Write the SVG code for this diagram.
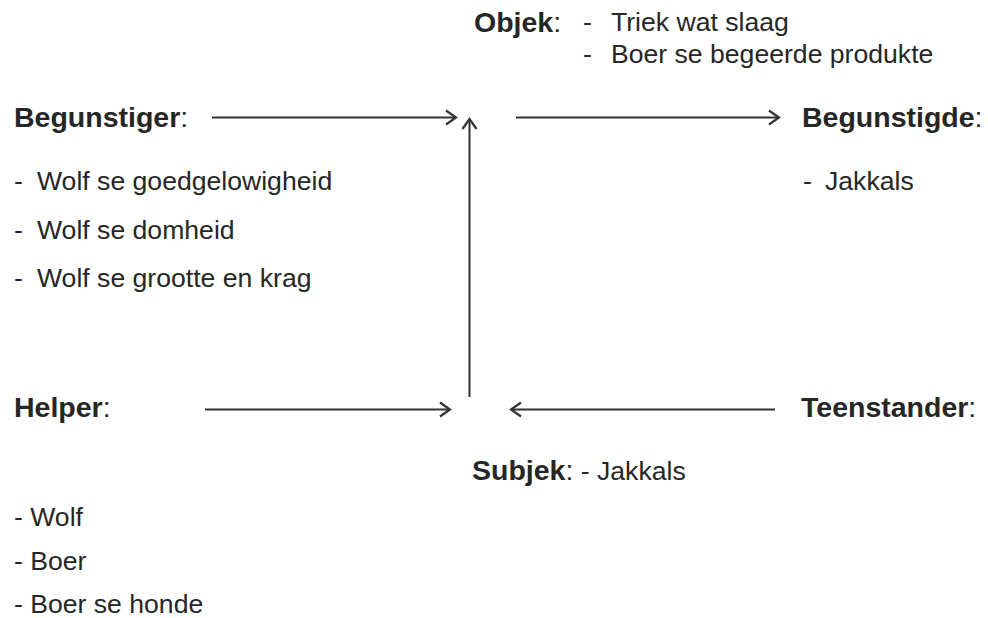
<svg xmlns="http://www.w3.org/2000/svg" width="988" height="618" viewBox="0 0 988 618">
<style>
text{font-family:"Liberation Sans",Arial,sans-serif;fill:#262626}
.h{font-size:28.5px;font-weight:bold}
.c{font-weight:normal}
.t{font-size:26.6px}
.ln{stroke:#333;stroke-width:2;fill:none}
</style>
<defs>
<marker id="ah" markerUnits="userSpaceOnUse" markerWidth="20" markerHeight="20" viewBox="-12 -10 14 20" refX="0" refY="0" orient="auto">
<path d="M-10,-7 L0,0 L-10,7" fill="none" stroke="#333" stroke-width="2.2"/>
</marker>
</defs>
<rect width="988" height="618" fill="#fff"/>
<g id="objek">
<text class="h" x="474" y="32">Objek<tspan class="c">:</tspan></text>
<text class="t" x="583" y="31">-</text>
<text class="t" x="611" y="31">Triek wat slaag</text>
<text class="t" x="583" y="63">-</text>
<text class="t" x="611" y="63">Boer se begeerde produkte</text>
</g>
<g id="begunstiger">
<text class="h" x="14" y="127">Begunstiger<tspan class="c">:</tspan></text>
<text class="t" x="14" y="190">-</text>
<text class="t" x="37" y="190">Wolf se goedgelowigheid</text>
<text class="t" x="14" y="239">-</text>
<text class="t" x="37" y="239">Wolf se domheid</text>
<text class="t" x="14" y="287">-</text>
<text class="t" x="37" y="287">Wolf se grootte en krag</text>
</g>
<g id="begunstigde">
<text class="h" x="802" y="127">Begunstigde<tspan class="c">:</tspan></text>
<text class="t" x="803" y="190">-</text>
<text class="t" x="825" y="190">Jakkals</text>
</g>
<g id="helper">
<text class="h" x="14" y="417">Helper<tspan class="c">:</tspan></text>
<text class="t" x="14" y="526">- Wolf</text>
<text class="t" x="14" y="570">- Boer</text>
<text class="t" x="14" y="613">- Boer se honde</text>
</g>
<g id="teenstander">
<text class="h" x="801" y="417">Teenstander<tspan class="c">:</tspan></text>
</g>
<g id="subjek">
<text class="h" x="472" y="480">Subjek<tspan class="c">:</tspan><tspan class="c" font-size="26.6px"> - Jakkals</tspan></text>
</g>
<g id="connectors">
<line class="ln" x1="212" y1="117.5" x2="456" y2="117.5" marker-end="url(#ah)"/>
<line class="ln" x1="516" y1="117.5" x2="779" y2="117.5" marker-end="url(#ah)"/>
<line class="ln" x1="469.5" y1="397" x2="469.5" y2="119" marker-end="url(#ah)"/>
<line class="ln" x1="205" y1="409.5" x2="450" y2="409.5" marker-end="url(#ah)"/>
<line class="ln" x1="775" y1="409.5" x2="511" y2="409.5" marker-end="url(#ah)"/>
</g>
</svg>
